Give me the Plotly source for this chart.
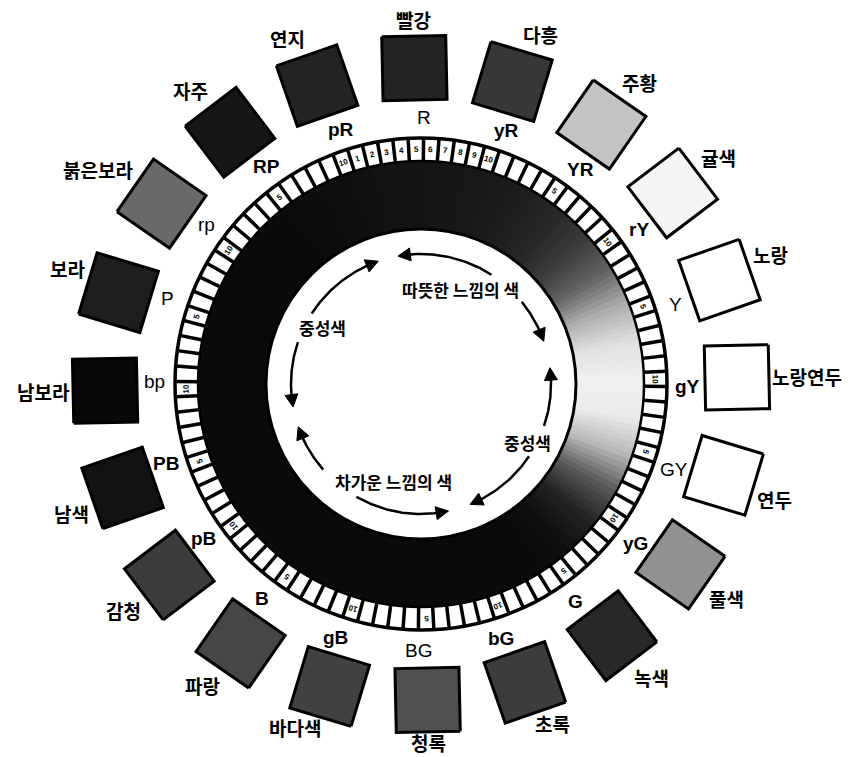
import numpy as np
import plotly.graph_objects as go

# ---------------- data ----------------
hue_codes = ["R", "yR", "YR", "rY", "Y", "gY", "GY", "yG", "G", "bG",
             "BG", "gB", "B", "pB", "PB", "bp", "P", "rp", "RP", "pR"]
hue_names = ["빨강", "다흥", "주황", "귤색", "노랑", "노랑연두", "연두", "풀색", "녹색", "초록",
             "청록", "바다색", "파랑", "감청", "남색", "남보라", "보라", "붉은보라", "자주", "연지"]
swatch_gray = [35, 55, 195, 245, 255, 255, 255, 145, 40, 60,
               80, 65, 70, 60, 18, 8, 30, 105, 22, 35]
bold_codes = {"yR", "YR", "rY", "gY", "yG", "G", "bG", "gB", "B", "pB", "PB", "RP", "pR"}

cell_count = 100
top_cell_numbers = ["10", "1", "2", "3", "4", "5", "6", "7", "8", "9"]
hue_step_marks = ["5", "10"]

ring_profile_angle = list(range(0, 360, 10))
ring_profile_gray = [20, 22, 25, 30, 40, 60, 100, 175, 225, 240, 235, 185, 90, 35, 15,
                     10, 10, 10, 10, 10, 10, 10, 10, 10, 10, 10, 10, 10, 10, 10, 10, 10, 10,
                     12, 15, 18]

arrow_arcs = [(34, -9), (304, 342), (52, 72), (290, 261),
              (230, 252), (211, 169), (125, 159), (110, 84)]
inner_labels = ["따뜻한 느낌의 색", "중성색", "중성색", "차가운 느낌의 색"]

# ---------------- geometry / style ----------------
W, H = 858, 757
CX, CY = 421, 384
ROT = -1.2
R_OUT, R_CELL_IN, R_INNER = 246, 223, 155
R_SWATCH, SWATCH = 316, 64
R_CODE, R_NAME = 267, 350
KFONT = "Noto Sans CJK KR"
LFONT = "Liberation Sans"


def pol(r, deg):
    a = np.radians(deg + ROT)
    return CX + r * np.sin(a), CY - r * np.cos(a)


fig = go.Figure()
shapes = []
annotations = []

# gradient dark ring
ang_ext = ring_profile_angle + [360]
gray_ext = ring_profile_gray + [ring_profile_gray[0]]
n_w = 240
step = 360 / n_w
for k in range(n_w):
    a0 = k * step
    a1 = a0 + step + 0.5
    g = int(round(np.interp(a0 + step / 2, ang_ext, gray_ext)))
    p = [pol(R_INNER, a0), pol(R_CELL_IN, a0), pol(R_CELL_IN, a1), pol(R_INNER, a1)]
    path = "M " + " L ".join(f"{x:.2f},{y:.2f}" for x, y in p) + " Z"
    shapes.append(dict(type="path", path=path, xref="x", yref="y",
                       fillcolor=f"rgb({g},{g},{g})", line=dict(width=0), layer="below"))

# cell divider lines
lx, ly = [], []
cell_deg = 360 / cell_count
for i in range(cell_count):
    a = (i + 0.5) * cell_deg
    x0, y0 = pol(R_CELL_IN, a)
    x1, y1 = pol(R_OUT, a)
    lx += [x0, x1, None]
    ly += [y0, y1, None]
fig.add_trace(go.Scatter(x=lx, y=ly, mode="lines", line=dict(color="black", width=3.5),
                         hoverinfo="skip", showlegend=False))

# circles
for r, w in [(R_OUT, 3.5), (R_CELL_IN, 2.5), (R_INNER, 3)]:
    shapes.append(dict(type="circle", xref="x", yref="y", x0=CX - r, x1=CX + r,
                       y0=CY - r, y1=CY + r, line=dict(color="black", width=w),
                       fillcolor="rgba(0,0,0,0)", layer="above"))

# small numbers in cells
r_mid = (R_CELL_IN + R_OUT) / 2
for j, t in enumerate(top_cell_numbers):
    a = (j - 5) * cell_deg
    x, y = pol(r_mid, a)
    annotations.append(dict(x=x, y=y, text=f"<b>{t}</b>", showarrow=False, textangle=a + ROT,
                            font=dict(family=LFONT, size=8, color="black")))
for k in range(1, len(hue_codes) - 1):
    a = k * 18
    x, y = pol(r_mid, a)
    annotations.append(dict(x=x, y=y, text=f"<b>{hue_step_marks[k % 2]}</b>", showarrow=False,
                            textangle=a + ROT, font=dict(family=LFONT, size=8, color="black")))

# swatches and labels
half = SWATCH / 2
for i, code in enumerate(hue_codes):
    th = i * 18
    cx, cy = pol(R_SWATCH, th)
    a = np.radians(th + ROT)
    xs, ys = [], []
    for ux, uy in [(-half, -half), (half, -half), (half, half), (-half, half), (-half, -half)]:
        xs.append(cx + ux * np.cos(a) - uy * np.sin(a))
        ys.append(cy + ux * np.sin(a) + uy * np.cos(a))
    g = swatch_gray[i]
    fig.add_trace(go.Scatter(x=xs, y=ys, mode="lines", fill="toself",
                             fillcolor=f"rgb({g},{g},{g})", line=dict(color="black", width=3),
                             hoverinfo="skip", showlegend=False))
    # code label
    x, y = pol(R_CODE, th + 1.8)
    txt = f"<b>{code}</b>" if code in bold_codes else code
    annotations.append(dict(x=x, y=y, text=txt, showarrow=False,
                            font=dict(family=LFONT, size=19, color="black")))
    # name label
    s, c = np.sin(a), np.cos(a)
    xa = "left" if s > 0.25 else ("right" if s < -0.25 else "center")
    ya = "bottom" if c > 0.25 else ("top" if c < -0.25 else "middle")
    rn = R_NAME - 6 if c < -0.9 else R_NAME
    x, y = pol(rn, th)
    annotations.append(dict(x=x, y=y, text=f"<b>{hue_names[i]}</b>", showarrow=False,
                            xanchor=xa, yanchor=ya, borderpad=0,
                            font=dict(family=KFONT, size=19, color="black")))

# inner arrows
R_ARR = 130
for a0, a1 in arrow_arcs:
    sgn = 1 if a1 > a0 else -1
    a_end = a1 - sgn * 5.5
    ts = np.linspace(a0, a_end, 40)
    pts = [pol(R_ARR, t) for t in ts]
    fig.add_trace(go.Scatter(x=[p[0] for p in pts], y=[p[1] for p in pts], mode="lines",
                             line=dict(color="black", width=2.5), hoverinfo="skip",
                             showlegend=False))
    bx, by = pol(R_ARR, a_end)
    tx, ty = pol(R_ARR, a1)
    dx, dy = tx - bx, ty - by
    L = np.hypot(dx, dy)
    nx, ny = -dy / L, dx / L
    wh = 6.5
    fig.add_trace(go.Scatter(x=[tx, bx + nx * wh, bx - nx * wh, tx],
                             y=[ty, by + ny * wh, by - ny * wh, ty],
                             mode="lines", fill="toself", fillcolor="black",
                             line=dict(color="black", width=1), hoverinfo="skip",
                             showlegend=False))

for txt, ang, rr in zip(inner_labels, [24, 301, 120, 197], [102, 113, 121, 101]):
    x, y = pol(rr, ang)
    annotations.append(dict(x=x, y=y, text=f"<b>{txt}</b>", showarrow=False,
                            font=dict(family=KFONT, size=17, color="black")))

fig.update_layout(
    width=W, height=H, autosize=False,
    margin=dict(l=0, r=0, t=0, b=0),
    paper_bgcolor="white", plot_bgcolor="white",
    xaxis=dict(range=[0, W], visible=False, fixedrange=True),
    yaxis=dict(range=[H, 0], visible=False, fixedrange=True),
    shapes=shapes, annotations=annotations, showlegend=False,
)
fig.write_html("out.html", config={"displayModeBar": False},
               post_script="document.body.style.margin='0';document.body.style.padding='0';")
